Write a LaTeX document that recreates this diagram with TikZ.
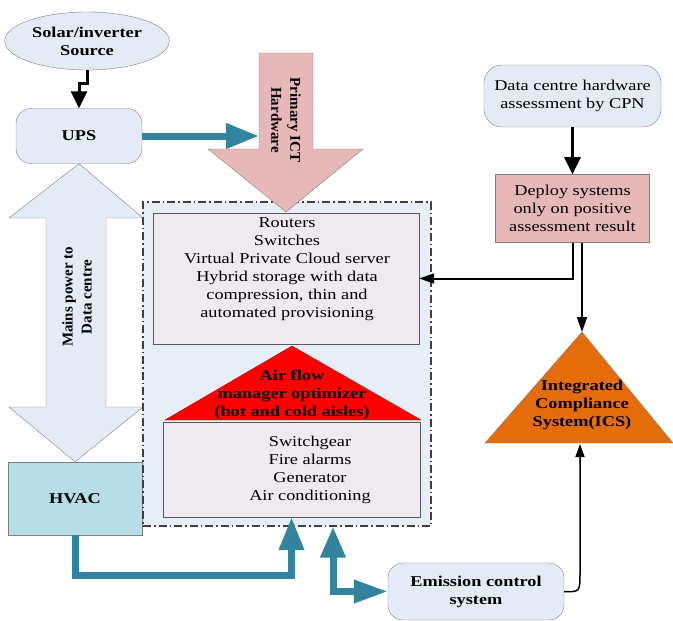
\documentclass[tikz,border=0pt]{standalone}
\usepackage{fontspec}
\setmainfont{Liberation Serif}[FakeStretch=1.22]
\newfontfamily\plainserif{Liberation Serif}
\usepackage{tikz}
\usetikzlibrary{shapes.geometric}
\usetikzlibrary{positioning}
\usetikzlibrary{arrows.meta}

\definecolor{paleblue}{HTML}{E4EBF6}
\definecolor{dcblue}{HTML}{E8EEF7}
\definecolor{boxgray}{HTML}{EEEAF0}
\definecolor{pinkfill}{HTML}{E6B9B8}
\definecolor{hvacfill}{HTML}{B7DDE8}
\definecolor{tealline}{HTML}{31849B}
\definecolor{icsfill}{HTML}{E46C0A}
\definecolor{edgegray}{HTML}{808080}

\begin{document}
\begin{tikzpicture} [x=1pt, y=-1pt,
    every node/.style={align=center, font=\fontsize{15}{18}\selectfont},
    boldtext/.style={font=\fontsize{15}{18}\selectfont\bfseries},
    rottext/.style={font=\plainserif\bfseries\fontsize{15}{19}\selectfont},
    softbox/.style={draw=edgegray, fill=paleblue, rounded corners=15pt},
    inbox/.style={draw=black!65, fill=boxgray},
    pinkbox/.style={draw=edgegray, fill=pinkfill},
    tealarrow/.style={draw=tealline, line width=7pt, -{Triangle[length=33pt,width=24pt]}},
    blackarrow/.style={draw=black, line width=3pt, -{Triangle[length=17pt,width=16pt]}},
    thinarrow/.style={draw=black, line width=2pt, -{Triangle[length=15pt,width=10pt]}}]
    \useasboundingbox (0,0) rectangle (673,621);

    % power side
    \node (solar) [ellipse, draw=edgegray, fill=paleblue, minimum width=142pt, minimum height=58pt, boldtext] at (87,41) {Solar/inverter\\Source};
    \node (ups) [softbox, minimum width=126pt, minimum height=55pt, boldtext] at (79,136) {UPS};
    \node (hvac) [draw=edgegray, fill=hvacfill, minimum width=134pt, minimum height=73pt, boldtext] at (75,498.5) {HVAC};

    \draw [blackarrow] (solar.south) -- ++(0,13) -| (ups.north);

    \draw [draw=edgegray, fill=paleblue] (ups.south) -- (143,218) -- (106,218) -- (106,407) -- (143,407)
      -- (hvac.north) -- (9,407) -- (46,407) -- (46,218) -- (9,218) -- cycle;
    \node (mains) [rottext, rotate=90] at (77,297) {Mains power to\\Data centre};

    % data centre
    \node (dc) [draw=black!75, fill=dcblue, line width=1.2pt, dash pattern=on 8pt off 3pt on 1.5pt off 3pt,
      minimum width=288pt, minimum height=324pt] at (287,364) {};
    \node (hw) [inbox, minimum width=266pt, minimum height=131pt] at (286,278.5) {};
    \node (hwlist) at (287,269) {Routers\\Switches\\Virtual Private Cloud server\\Hybrid storage with data\\compression, thin and\\automated provisioning};

    \draw [draw=red!80!black, fill=red] (292,346) -- (421,420) -- (165,420) -- cycle;
    \node (air) [boldtext] at (292,395) {Air flow\\manager optimizer\\(hot and cold aisles)};

    \node (fac) [inbox, minimum width=257pt, minimum height=95pt] at (291.5,469.5) {};
    \node (faclist) at (310,470) {Switchgear\\Fire alarms\\Generator\\Air conditioning};

    \draw [draw=edgegray, fill=pinkfill] (259,53) -- (313,53) -- (313,149) -- (363,149) -- (286,212)
      -- (208,149) -- (259,149) -- cycle;
    \node (ict) [rottext, rotate=-90] at (286,120) {Primary ICT\\Hardware};

    \coordinate (ictin) at (259,136);
    \draw [tealarrow] (ups.east) -- (ictin);

    % assessment side
    \node (cpn) [softbox, rounded corners=18pt, minimum width=177pt, minimum height=62pt] at (572.5,96) {Data centre hardware\\assessment by CPN};
    \node (deploy) [pinkbox, minimum width=154pt, minimum height=68pt, below=47pt of cpn] {Deploy systems\\only on positive\\assessment result};
    \draw [blackarrow] (cpn) -- (deploy);

    \draw [draw=edgegray, fill=icsfill] (582,332) -- (673,443) -- (485,443) -- cycle;
    \coordinate (icstop) at (582,332);
    \coordinate (icsbase) at (580,444);
    \node (ics) [boldtext] at (582,405) {Integrated\\Compliance\\System(ICS)};

    \draw [thinarrow] (deploy.south) |- (hw.east);
    \draw [thinarrow] (deploy.south -| icstop) -- (icstop);

    \node (emis) [softbox, minimum width=176pt, minimum height=57pt, boldtext] at (476,591.5) {Emission control\\system};
    \draw [draw=black, line width=1.5pt, -{Triangle[length=13pt,width=9pt]}] (emis.east) .. controls (580,592) .. (580,572) -- (icsbase);

    \draw [tealarrow] (hvac.south) -- ++(0,40) -| (fac.south);
    \path (dc.south) ++(46,0) coordinate (dcout);
    \draw [tealarrow, {Triangle[length=31pt,width=24pt]}-{Triangle[length=34pt,width=22pt]}] (dcout) |- (emis.west);
\end{tikzpicture}
\end{document}
